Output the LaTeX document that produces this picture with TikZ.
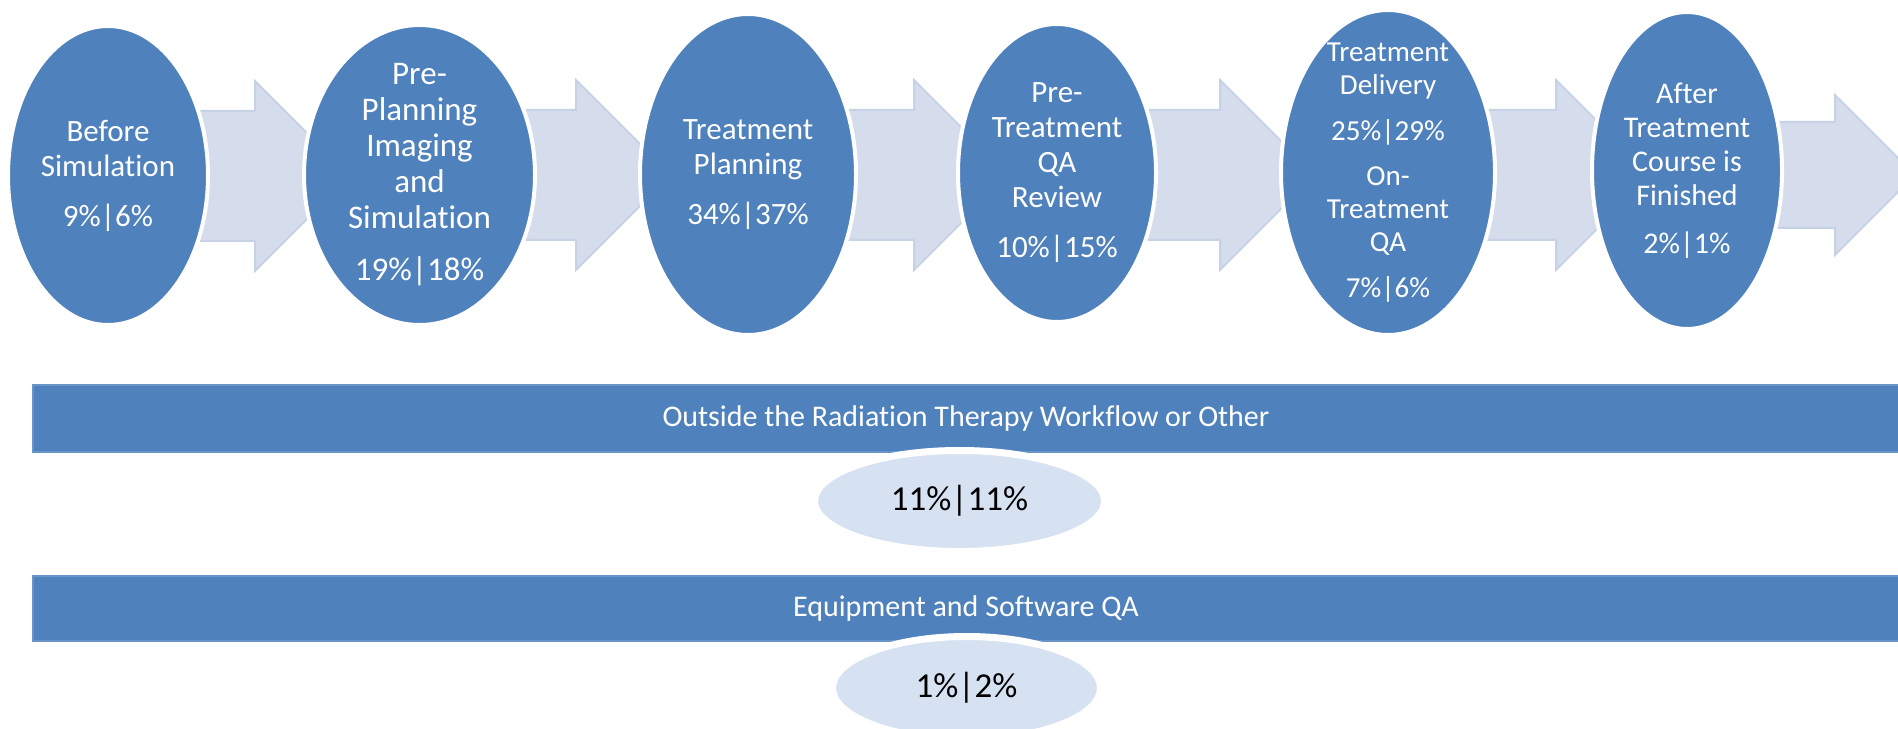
\documentclass[tikz,border=0pt]{standalone}
\usepackage{fontspec}
\setmainfont{Carlito}[Ligatures=NoCommon]
\usetikzlibrary{shapes.geometric}

\definecolor{stageblue}{RGB}{79,129,189}
\definecolor{flowfill}{RGB}{213,221,236}
\definecolor{flowedge}{RGB}{200,210,230}
\definecolor{shareblue}{RGB}{214,225,241}

\begin{document}
\begin{tikzpicture}[x=1pt,y=1pt]
\tikzstyle{stage}=[ellipse, fill=stageblue, draw=white, line width=2pt, inner sep=0pt]
\tikzstyle{stagetext}=[text=white, align=center, inner sep=0pt]
\tikzstyle{flow}=[fill=flowfill, draw=flowedge, line width=1pt, line join=miter]
\tikzstyle{band}=[fill=stageblue, draw=stageblue!85!white, line width=.6pt, text=white,
  minimum width=933pt, minimum height=33.5pt, inner sep=0pt, font=\fontsize{15}{18}\selectfont]
\tikzstyle{share}=[ellipse, fill=shareblue, draw=white, line width=3.5pt, inner sep=0pt,
  font=\fontsize{17.5}{21}\selectfont]

\useasboundingbox (0,0) rectangle (949,364);

% block arrows behind the stages
\foreach \bl/\hs/\b/\t/\c in {95/127.5/32.5/47.5/276, 258/288/32.5/47.5/276.5,
    419/457/32.5/47.5/276.5, 569/610/32.5/47.5/276.5, 738/778/32.5/47.5/276.5,
    882/917.5/26.5/40/276.5}
  \draw[flow] (\bl,\c+\b) -- (\hs,\c+\b) -- (\hs,\c+\t) -- (\hs+\t,\c)
    -- (\hs,\c-\t) -- (\hs,\c-\b) -- (\bl,\c-\b) -- cycle;

% workflow stages
\node[stage, minimum width=100pt, minimum height=149.5pt] (before) at (54,276.25) {};
\node[stage, minimum width=115.5pt, minimum height=150pt] (preplan) at (209.75,276.5) {};
\node[stage, minimum width=108pt, minimum height=160.5pt] (planning) at (374,276.75) {};
\node[stage, minimum width=99pt, minimum height=149pt] (ptqa) at (528.5,277.5) {};
\node[stage, minimum width=107pt, minimum height=162.5pt] (delivery) at (694,277.75) {};
\node[stage, minimum width=95pt, minimum height=158.5pt] (after) at (843.5,278.75) {};

\node[stagetext, font=\fontsize{15.5}{17.5}\selectfont] (beforetxt) at (before)
  {Before\\Simulation\\[7.5pt]9\%|6\%};
\node[stagetext, font=\fontsize{16.5}{18}\selectfont] (preplantxt) at (preplan)
  {Pre-\\Planning\\Imaging\\and\\Simulation\\[8pt]19\%|18\%};
\node[stagetext, font=\fontsize{15.5}{17.5}\selectfont] (planningtxt) at (planning)
  {Treatment\\Planning\\[7.5pt]34\%|37\%};
\node[stagetext, font=\fontsize{15.5}{17.5}\selectfont] (ptqatxt) at (ptqa)
  {Pre-\\Treatment\\QA\\Review\\[7.5pt]10\%|15\%};
\node[stagetext, font=\fontsize{14.5}{16.5}\selectfont] (deliverytxt) at (delivery)
  {Treatment\\Delivery\\[6.5pt]25\%|29\%\\[6pt]On-\\Treatment\\QA\\[6.5pt]7\%|6\%};
\node[stagetext, font=\fontsize{15}{17}\selectfont] (aftertxt) at (after)
  {After\\Treatment\\Course is\\Finished\\[7pt]2\%|1\%};

% other categories
\node[band] (outside) at (483,154.75) {Outside the Radiation Therapy Workflow or Other};
\node[band, minimum height=32.5pt] (equip) at (483,59.75) {Equipment and Software QA};

\node[share, minimum width=145pt, minimum height=50.5pt] (outsideshare) at (479.75,113.5) {11\%|11\%};
\node[share, minimum width=134pt, minimum height=51.5pt] (equipshare) at (483.25,20) {1\%|2\%};
\end{tikzpicture}
\end{document}
